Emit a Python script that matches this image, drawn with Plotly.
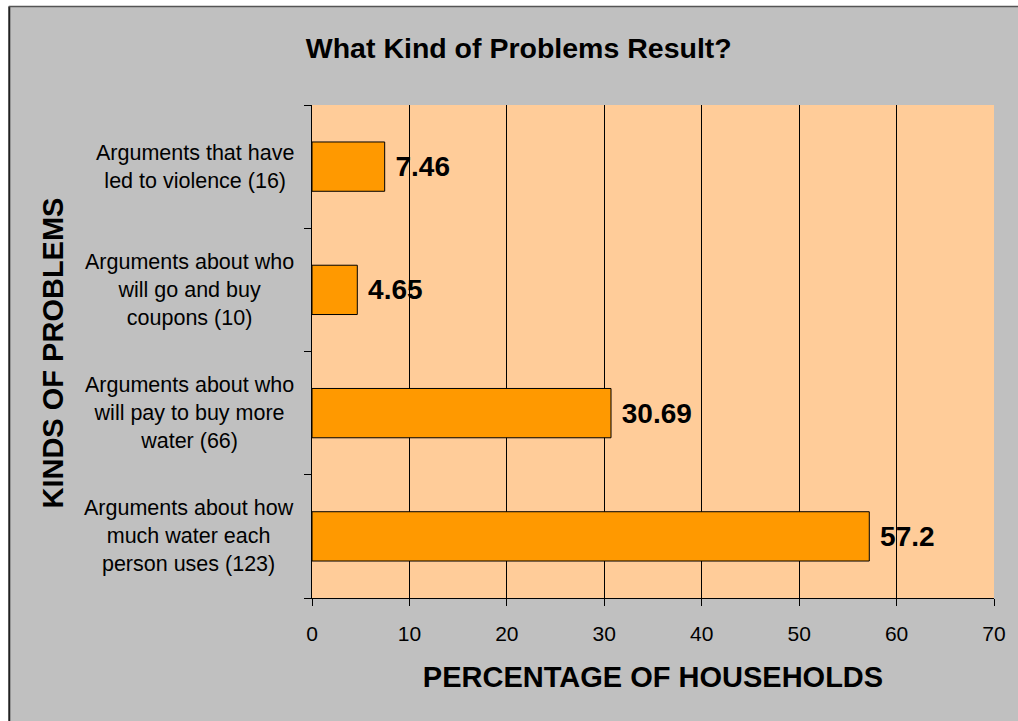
import plotly.graph_objects as go

# ---- data ----
categories = [
    "Arguments about how<br>much water each<br>person uses (123)",
    "Arguments about who<br>will pay to buy more<br>water (66)",
    "Arguments about who<br>will go and buy<br>coupons (10)",
    "Arguments that have<br>led to violence (16)",
]
values = [57.2, 30.69, 4.65, 7.46]
x_ticks = [0, 10, 20, 30, 40, 50, 60, 70]
grid_vals = [10, 20, 30, 40, 50, 60]

title_text = "What Kind of Problems Result?"
x_title = "PERCENTAGE OF HOUSEHOLDS"
y_title = "KINDS OF PROBLEMS"

# ---- layout geometry ----
W, H = 1018, 721
L, R, T, B = 312, 20, 105, 123
PW, PH = W - L - R, H - T - B
FONT = "Arial, 'Liberation Sans', sans-serif"


def px_x(p):
    return (p - L) / PW


def px_y(p):
    return (H - B - p) / PH


fig = go.Figure()
fig.add_trace(go.Bar(
    x=values,
    y=categories,
    orientation="h",
    marker=dict(color="#ff9900", line=dict(color="black", width=1)),
    texttemplate=" %{x}",
    textposition="outside",
    textfont=dict(family=FONT, size=28, color="black", weight="bold"),
    constraintext="none",
    cliponaxis=False,
    hoverinfo="skip",
))

annotations = []
for c in categories:
    annotations.append(dict(
        text=c, x=px_x(296), xref="paper", y=c, yref="y",
        xanchor="right", yanchor="middle", align="center", showarrow=False,
        font=dict(family=FONT, size=21.5, color="black"),
    ))
annotations.append(dict(
    text=f"<b>{y_title}</b>", x=px_x(51), xref="paper", y=px_y(353), yref="paper",
    xanchor="center", yanchor="middle", textangle=-90, showarrow=False,
    font=dict(family=FONT, size=29, color="black"),
))

shapes = [
    # white page strips outside the chart border
    dict(type="rect", xref="paper", yref="paper", x0=px_x(-20), x1=px_x(7), y0=px_y(740), y1=px_y(-20),
         fillcolor="white", line=dict(width=0), layer="above"),
    dict(type="rect", xref="paper", yref="paper", x0=px_x(-20), x1=px_x(1040), y0=px_y(6), y1=px_y(-20),
         fillcolor="white", line=dict(width=0), layer="above"),
    # border lines
    dict(type="line", xref="paper", yref="paper", x0=px_x(7.5), x1=px_x(7.5), y0=px_y(740), y1=px_y(6.5),
         line=dict(color="#222222", width=2), layer="above"),
    dict(type="line", xref="paper", yref="paper", x0=px_x(7), x1=px_x(1040), y0=px_y(6.5), y1=px_y(6.5),
         line=dict(color="#555555", width=1.5), layer="above"),
]

fig.update_layout(
    width=W, height=H,
    margin=dict(l=L, r=R, t=T, b=B, pad=0),
    paper_bgcolor="#c0c0c0",
    plot_bgcolor="#ffcc99",
    bargap=0.6,
    showlegend=False,
    font=dict(family=FONT, color="black"),
    title=dict(
        text=f"<b>{title_text}</b>", x=px_x(520), xref="paper", xanchor="center",
        y=1 - 48.5 / H, yref="container", yanchor="middle",
        font=dict(family=FONT, size=28.5, color="black"),
    ),
    xaxis=dict(
        range=[0, 70], tickvals=x_ticks, ticktext=[str(v) for v in x_ticks],
        showgrid=False, zeroline=False,
        showline=True, linecolor="black", linewidth=1,
        ticks="outside", ticklen=7, tickcolor="black", tickwidth=1,
        tickfont=dict(family=FONT, size=21, color="black"),
        ticklabelstandoff=10,
        minor=dict(tickvals=grid_vals, showgrid=True, gridcolor="black", gridwidth=1, ticks=""),
        title=dict(text=f"<b>{x_title}</b>", font=dict(family=FONT, size=29, color="black"), standoff=22),
        fixedrange=True,
    ),
    yaxis=dict(
        type="category", categoryorder="array", categoryarray=categories,
        range=[-0.5, 3.5],
        showticklabels=False, tickson="boundaries",
        ticks="outside", ticklen=7, tickcolor="black", tickwidth=1,
        showgrid=False, zeroline=False,
        showline=True, linecolor="black", linewidth=1,
        fixedrange=True,
    ),
    annotations=annotations,
    shapes=shapes,
)

fig.write_html("out.html")
